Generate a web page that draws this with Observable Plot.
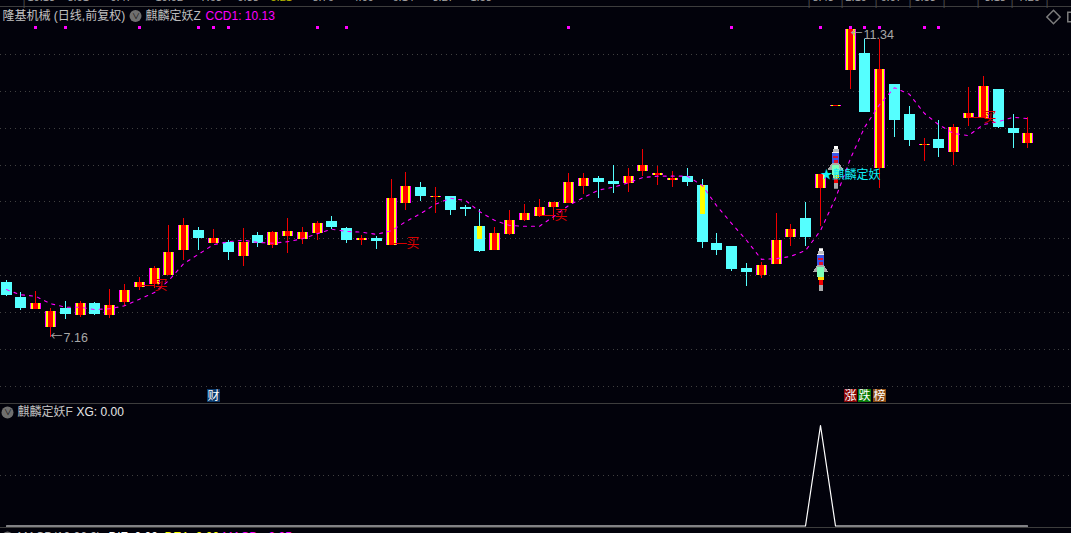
<!DOCTYPE html>
<html lang="zh">
<head>
<meta charset="utf-8">
<script src="https://cdn.jsdelivr.net/npm/d3@7"></script>
<script src="https://cdn.jsdelivr.net/npm/@observablehq/plot@0.6"></script>
<style>
html,body{margin:0;padding:0;width:1071px;height:533px;overflow:hidden;background:#02020b}
#chart{width:1071px;height:533px;overflow:hidden}
#chart svg{display:block;background:#02020b}
</style>
</head>
<body>
<div id="chart"></div>
<script>
const opens=[7.91,7.70,7.54,7.30,7.55,7.46,7.62,7.46,7.63,7.84,7.88,8.00,8.34,8.61,8.44,8.45,8.26,8.54,8.41,8.53,8.49,8.57,8.73,8.64,8.48,8.50,8.41,8.98,9.20,9.06,9.07,8.92,8.67,8.34,8.56,8.75,8.80,8.92,8.98,9.21,9.32,9.28,9.25,9.41,9.36,9.29,9.35,9.22,8.44,8.40,8.10,8.00,8.15,8.52,8.78,9.18,10.30,10.78,11.01,9.45,10.59,10.19,9.77,9.85,9.67,10.13,10.13,10.53,10.00,9.79];
const closes=[7.73,7.55,7.62,7.51,7.47,7.62,7.47,7.59,7.80,7.91,8.10,8.31,8.68,8.50,8.50,8.31,8.45,8.44,8.59,8.60,8.59,8.71,8.65,8.48,8.50,8.46,9.05,9.21,9.07,9.07,8.88,8.90,8.33,8.57,8.75,8.84,8.92,8.99,9.26,9.32,9.26,9.24,9.35,9.49,9.39,9.32,9.26,8.45,8.34,8.08,8.04,8.14,8.48,8.63,8.52,9.37,10.31,11.34,10.21,10.80,10.10,9.83,9.78,9.73,10.01,10.20,10.57,10.01,9.93,9.93];
const highs=[7.93,7.77,7.78,7.55,7.65,7.65,7.63,7.81,7.88,7.97,8.12,8.68,8.78,8.65,8.63,8.48,8.64,8.59,8.60,8.78,8.65,8.73,8.80,8.65,8.54,8.53,9.30,9.40,9.26,9.20,9.07,8.95,8.90,8.65,8.88,8.97,9.03,8.99,9.39,9.39,9.35,9.49,9.45,9.71,9.48,9.41,9.45,9.30,8.57,8.40,8.16,8.18,8.84,8.69,8.99,9.37,10.31,11.34,11.20,11.20,10.59,10.30,9.86,10.10,10.05,10.55,10.70,10.53,10.19,10.15];
const lows=[7.72,7.53,7.54,7.16,7.40,7.43,7.46,7.42,7.58,7.80,7.83,8.00,8.21,8.34,8.44,8.21,8.12,8.38,8.37,8.30,8.42,8.48,8.63,8.44,8.41,8.35,8.41,8.88,9.01,8.84,8.82,8.80,8.31,8.34,8.54,8.73,8.79,8.75,8.98,9.10,9.05,9.12,9.13,9.35,9.22,9.20,9.21,8.37,8.27,8.06,7.85,7.96,8.15,8.40,8.40,8.67,10.30,10.53,10.21,9.18,9.87,9.75,9.55,9.60,9.49,10.02,10.13,10.00,9.73,9.73];
const ccd1=[7.81,7.74,7.72,7.62,7.57,7.57,7.54,7.55,7.59,7.68,7.77,7.93,8.16,8.29,8.42,8.46,8.48,8.45,8.44,8.46,8.50,8.57,8.63,8.60,8.59,8.56,8.61,8.73,8.84,8.97,9.05,9.02,8.87,8.75,8.68,8.67,8.67,8.80,8.95,9.06,9.16,9.20,9.26,9.33,9.35,9.35,9.35,9.22,8.95,8.71,8.48,8.22,8.23,8.26,8.34,8.61,9.05,9.59,10.01,10.32,10.55,10.46,10.20,10.05,9.93,9.90,10.05,10.09,10.15,10.13];
const xg=opens.map(()=>0); xg[55]=1;
const signalIdx=[2,4,9,13,14,15,21,23,38,49,55,57,58,59,62,63];
const signalPrice=11.37;
const yellowIdx=[32,47], yellowTop=[8.67,9.22], yellowBottom=[8.49,8.83];
const gridPrices=[6.5,7,7.5,8,8.5,9,9.5,10,10.5,11];
const rocketIdx=[55,56], rocketPrice=[8.08,9.47];
const buyIdx=[9,26,36,65], buyPrice=[7.87,8.44,8.83,10.16];
const extremes=[{i:3,p:7.16,t:"7.16"},{i:57,p:11.27,t:"11.34"}];
const badgeIdx=[14,57,58,59], badgeText=["财","涨","跌","榜"], badgeColor=["#0b3a6b","#8a0505","#087a08","#8a4a12"], badgePrice=6.37;
const stripTexts=["10.13","8.91","9.47","10.02","7.63","9.38","5.21","8.76","4.09","6.14","3.27","1.58","8.43","2.19","6.07","5.53","3.18","7.26"];
const stripLeft=[27,67,110,155,200,237,270,312,352,392,432,470,812,845,880,914,984,1018];
const stripSeparators=[22,807,840,874,908,942,976,1010,1045];

const rows=opens.map((o,i)=>({i,o,c:closes[i],h:highs[i],l:lows[i],ccd:ccd1[i],xg:xg[i]}));
const up=rows.filter(d=>d.c>=d.o), down=rows.filter(d=>d.c<d.o);
const font='"Liberation Sans","Noto Sans CJK SC",sans-serif';
const xScale={domain:[-0.3768,71.95],range:[0,1071],round:true};
const crisp={shapeRendering:"crispEdges"};

const rocketSvg=`<svg xmlns="http://www.w3.org/2000/svg" viewBox="0 0 16 43" shape-rendering="crispEdges">
<rect x="6" y="0" width="4" height="3" fill="#fff"/><rect x="5" y="3" width="6" height="3" fill="#bbb"/>
<rect x="4.5" y="6" width="7" height="13" fill="#3a55e8"/><rect x="4.5" y="6" width="7" height="1" fill="#eee"/>
<rect x="5.5" y="10" width="5" height="2" fill="#e01030"/><rect x="6" y="14" width="4" height="3" fill="#e01030"/>
<polygon points="0,24 4.5,17 11.5,17 16,24" fill="#aaa"/>
<rect x="4.5" y="19" width="7" height="10" fill="#7dffb8"/><rect x="5" y="29" width="6" height="3" fill="#ffd400"/>
<rect x="6" y="32" width="4" height="5" fill="#f00000"/><rect x="6" y="37" width="4" height="6" fill="#aaa"/></svg>`;
const rocketSrc="data:image/svg+xml,"+encodeURIComponent(rocketSvg);

const label=(text,dx,dy,fill,extra={})=>Plot.text([text],{frameAnchor:"top-left",textAnchor:"start",lineAnchor:"middle",dx,dy,fill,fontSize:12,fontFamily:font,...extra});
const chevron=(dx,dy)=>[
  Plot.dot([0],{frameAnchor:"top-left",dx,dy,r:6,fill:"#6f6f6f"}),
  label("∨",dx-3.5,dy,"#111",{fontSize:8})
];

const mainPanel=Plot.plot({
  width:1071,height:404,margin:0,
  style:{background:"#02020b",fontFamily:font},
  x:{...xScale,axis:null},
  y:{domain:[6.2508,11.7335],range:[404,0],axis:null},
  marks:[
    Plot.ruleY(gridPrices,{stroke:"#404040",strokeDasharray:"1,3.9",strokeWidth:1,...crisp}),
    Plot.ruleY([11.652],{stroke:"#3d3d3d",strokeWidth:1.4,...crisp}),
    Plot.ruleY([6.26],{stroke:"#3d3d3d",strokeWidth:1.4,...crisp}),
    Plot.ruleX(up,{x:"i",y1:"l",y2:"h",stroke:"#f00000",strokeWidth:1,...crisp}),
    Plot.ruleX(down,{x:"i",y1:"l",y2:"h",stroke:"#55ffff",strokeWidth:1,...crisp}),
    Plot.ruleX(down,{x:"i",y1:"o",y2:"c",stroke:"#55ffff",strokeWidth:11,...crisp}),
    Plot.ruleX(yellowIdx.map((i,k)=>({i,a:yellowTop[k],b:yellowBottom[k]})),{x:"i",y1:"a",y2:"b",stroke:"#ffff00",strokeWidth:5,...crisp}),
    Plot.ruleX(up,{x:"i",y1:"o",y2:"c",stroke:"#ff00ff",strokeWidth:11,...crisp}),
    Plot.ruleX(up,{x:"i",y1:"o",y2:"c",stroke:"#ffff00",strokeWidth:9,...crisp}),
    Plot.ruleX(up,{x:"i",y1:"o",y2:"c",stroke:"#ff0000",strokeWidth:5,...crisp}),
    Plot.line(rows,{x:"i",y:"ccd",stroke:"#ff00ff",strokeWidth:1.1,strokeDasharray:"3,5"}),
    Plot.dot(signalIdx,{x:d=>d,y:()=>signalPrice,symbol:"square",r:1.8,fill:"#ff00ff",...crisp}),
    Plot.image(rocketIdx.map((i,k)=>({i,p:rocketPrice[k]})),{x:"i",y:"p",src:rocketSrc,width:16,height:43}),
    Plot.text(["★麒麟定妖"],{x:()=>55,y:()=>9.37,textAnchor:"start",fill:"#0ff0f8",fontSize:12,fontFamily:font,lineAnchor:"middle"}),
    Plot.text(buyIdx.map((i,k)=>({i,p:buyPrice[k]})),{x:"i",y:"p",text:()=>"—买",textAnchor:"start",dx:2,fill:"#d80000",fontSize:13,fontFamily:font,lineAnchor:"middle"}),
    Plot.text(extremes,{x:"i",y:"p",text:()=>"←",textAnchor:"start",fill:"#a8a8a8",fontSize:12,fontFamily:'"Noto Sans CJK SC"',lineAnchor:"middle"}),
    Plot.text(extremes,{x:"i",y:"p",text:"t",textAnchor:"start",dx:13,fill:"#a8a8a8",fontSize:12.5,fontFamily:font,lineAnchor:"middle"}),
    Plot.dot(badgeIdx.map((i,k)=>({i,c:badgeColor[k]})),{x:"i",y:()=>badgePrice,symbol:"square",r:7.4,fill:"c",...crisp}),
    Plot.text(badgeIdx.map((i,k)=>({i,t:badgeText[k]})),{x:"i",y:()=>badgePrice,text:"t",fill:"#fff",fontSize:12,fontFamily:font,lineAnchor:"middle"}),
    label("隆基机械 (日线,前复权)",2,15.5,"#c2c2c2"),
    ...chevron(135,15.5),
    label("麒麟定妖Z",145,15.5,"#bdbdbd"),
    label("CCD1: 10.13",205,15.5,"#ff00ff"),
    Plot.dot([0],{frameAnchor:"top-left",dx:1053,dy:16.5,symbol:"diamond2",r:6,stroke:"#7d7d7d",fill:"none"}),
    Plot.dot([0],{frameAnchor:"top-left",dx:1072,dy:16.5,symbol:"square2",r:6,stroke:"#7d7d7d",fill:"none"}),
    ...stripTexts.map((t,k)=>label(t,stripLeft[k],-3,k==6?"#b8b800":"#a8a8a8",{fontSize:11})),
    ...stripSeparators.map(dx=>label("|",dx,1,"#4a4a4a",{fontSize:12}))
  ]
});

const subPanel=Plot.plot({
  width:1071,height:129,margin:0,
  style:{background:"#02020b",fontFamily:font},
  x:{...xScale,axis:null},
  y:{domain:[-0.0746,1.209],range:[129,0],axis:null},
  marks:[
    Plot.ruleY([0.5],{stroke:"#404040",strokeDasharray:"1,3.9",strokeWidth:1,...crisp}),
    Plot.ruleY([-0.015],{stroke:"#3d3d3d",strokeWidth:1.4,...crisp}),
    Plot.line(rows,{x:"i",y:"xg",stroke:"#ffffff",strokeWidth:1.2}),
    ...chevron(7,8),
    label("麒麟定妖F",17,8,"#c2c2c2"),
    label("XG: 0.00",76,8,"#e6e6e6"),
    ...chevron(7,133),
    label("MACD(12,26,9)",17,133,"#bdbdbd"),
    label("DIF: 0.00",108,133,"#ffffff"),
    label("DEA: 0.00",164,133,"#ffff00"),
    label("MACD: -0.05",222,133,"#ff00ff")
  ]
});
document.getElementById("chart").append(mainPanel,subPanel);
</script>
</body>
</html>
